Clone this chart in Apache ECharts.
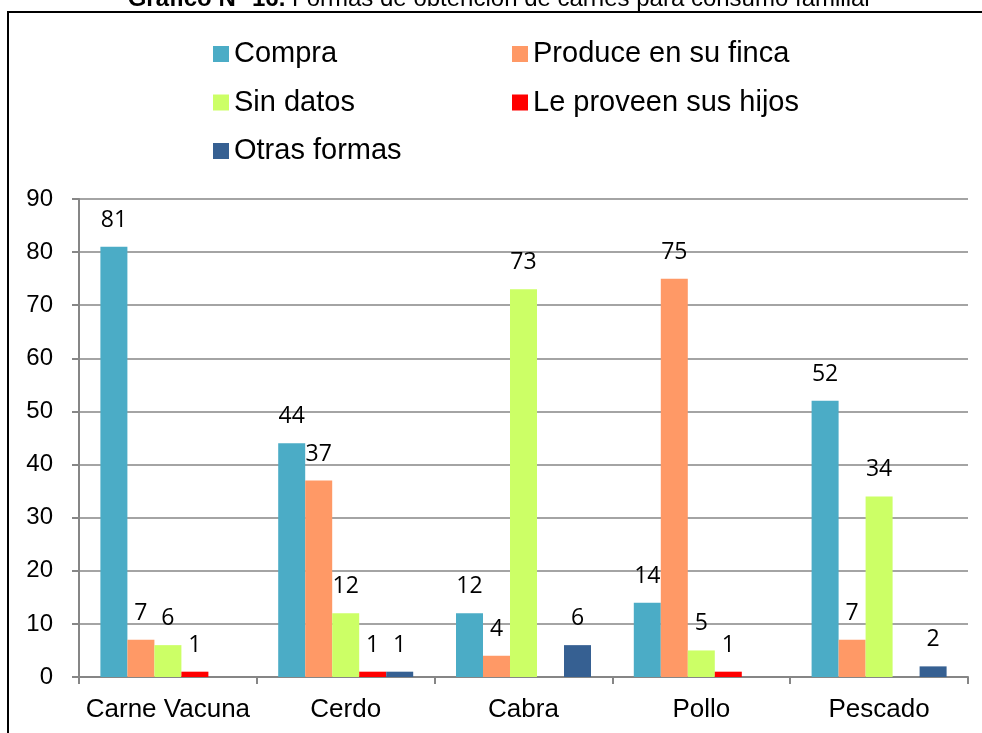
<!DOCTYPE html>
<html lang="es">
<head>
    <meta charset="UTF-8">
    <title>Formas de obtención de carnes</title>
    <style>
        html, body { margin: 0; padding: 0; background: #fff; }
    </style>
    <script src="https://cdn.jsdelivr.net/npm/echarts@6/dist/echarts.min.js"></script>
</head>
<body>
<div id="main" style="width:982px;height:733px"></div>
<script>
    var categories = ['Carne Vacuna', 'Cerdo', 'Cabra', 'Pollo', 'Pescado'];
    var compra = [81, 44, 12, 14, 52];
    var produce = [7, 37, 4, 75, 7];
    var sinDatos = [6, 12, 73, 5, 34];
    var hijos = [1, 1, null, 1, null];
    var otras = [null, 1, 6, null, 2];
    var yTicks = [0, 10, 20, 30, 40, 50, 60, 70, 80, 90];

    var names = ['Compra', 'Produce en su finca', 'Sin datos', 'Le proveen sus hijos', 'Otras formas'];
    var colors = ['#4BACC6', '#FF9966', '#CCFF66', '#FF0000', '#366092'];
    var values = [compra, produce, sinDatos, hijos, otras];

    var myChart = echarts.init(document.getElementById('main'));

    // legend slots, two columns like the original
    var legendPos = [[213, 39], [512, 39], [213, 87.5], [512, 87.5], [213, 136]];
    var legends = names.map(function (n, i) {
        return {
            data: [n],
            left: legendPos[i][0],
            top: legendPos[i][1],
            padding: 0,
            itemWidth: 16,
            itemHeight: 16,
            icon: 'rect',
            selectedMode: false,
            textStyle: { fontFamily: 'Liberation Sans', fontSize: 29, color: '#000', lineHeight: 30 }
        };
    });

    var series = names.map(function (n, i) {
        return {
            name: n,
            type: 'bar',
            data: values[i],
            barWidth: 27,
            barGap: '0%',
            itemStyle: { color: colors[i] },
            label: {
                show: true,
                position: 'top',
                distance: 15,
                color: '#000',
                fontFamily: 'Open Sans',
                fontSize: 23
            }
        };
    });

    var option = {
        animation: false,
        color: colors,
        graphic: [
            {
                type: 'rect',
                shape: { x: 8, y: 12, width: 1000, height: 800 },
                style: { fill: 'none', stroke: '#000', lineWidth: 2 },
                z: 100
            },
            {
                type: 'text',
                x: 500,
                y: 11,
                style: {
                    text: '{b|Gráfico N° 16.} Formas de obtención de carnes para consumo familiar',
                    textAlign: 'center',
                    textVerticalAlign: 'bottom',
                    fontFamily: 'Liberation Sans',
                    fontSize: 24,
                    fill: '#000',
                    rich: {
                        b: { fontFamily: 'Liberation Sans', fontSize: 24, fontWeight: 'bold', fill: '#000' }
                    }
                }
            }
        ],
        legend: legends,
        grid: { left: 79, right: 14, top: 199, bottom: 56 },
        xAxis: {
            type: 'category',
            data: categories,
            axisLine: { lineStyle: { color: '#868686', width: 2 } },
            axisTick: { show: true, interval: 0, length: 7, lineStyle: { color: '#868686', width: 2 } },
            axisLabel: { interval: 0, fontFamily: 'Liberation Sans', fontSize: 26, color: '#000', margin: 20 }
        },
        yAxis: {
            type: 'value',
            min: 0,
            max: 90,
            interval: 10,
            axisLine: { show: true, lineStyle: { color: '#868686', width: 2 } },
            axisTick: { show: true, length: 7, lineStyle: { color: '#868686', width: 2 } },
            splitLine: { lineStyle: { color: '#868686', width: 1.5 } },
            axisLabel: {
                fontFamily: 'Liberation Sans', fontSize: 24, color: '#000', margin: 26,
                formatter: function (v) { return yTicks.indexOf(v) >= 0 ? String(v) : ''; }
            }
        },
        series: series
    };
    myChart.setOption(option);
</script>
</body>
</html>
